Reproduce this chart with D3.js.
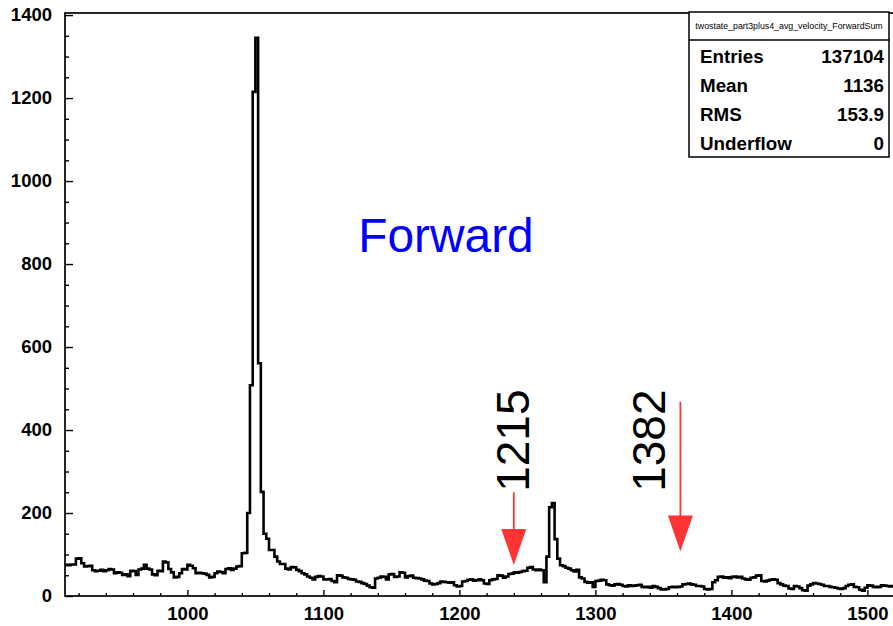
<!DOCTYPE html>
<html>
<head>
<meta charset="utf-8">
<script src="https://cdn.jsdelivr.net/npm/d3@7"></script>
<style>
  html, body { margin: 0; padding: 0; background: #fff; }
  svg { display: block; }
  text { font-family: "Liberation Sans", Arial, Helvetica, sans-serif; }
</style>
</head>
<body>
<svg id="chart" width="893" height="626"></svg>
<script>
// ---- histogram data: 2-unit bins starting at 910 ----
const binLow = 910;
const binWidth = 2;
const counts = [
  75, 74, 76, 76, 90, 91, 79, 71, 72, 73,
  62, 60, 61, 63, 60, 62, 65, 64, 55, 57,
  56, 51, 52, 48, 61, 60, 51, 64, 66, 75,
  66, 64, 52, 50, 61, 60, 83, 81, 65, 57,
  45, 46, 55, 65, 64, 75, 73, 67, 55, 56,
  55, 54, 51, 45, 46, 55, 59, 58, 55, 65,
  67, 63, 66, 71, 72, 103, 104, 200, 508, 1215,
  1345, 561, 251, 150, 138, 111, 111, 95, 83, 77,
  77, 66, 64, 70, 69, 63, 60, 55, 52, 47,
  44, 40, 46, 48, 47, 40, 40, 41, 36, 33,
  50, 49, 45, 44, 41, 40, 39, 35, 34, 31,
  29, 25, 21, 20, 42, 44, 47, 46, 40, 52,
  53, 46, 47, 57, 56, 45, 48, 49, 44, 43,
  42, 40, 37, 36, 30, 28, 29, 31, 35, 34,
  33, 32, 33, 26, 23, 24, 35, 36, 39, 40,
  37, 38, 40, 38, 30, 29, 38, 40, 41, 50,
  49, 44, 47, 53, 54, 57, 56, 58, 60, 61,
  68, 70, 64, 62, 64, 62, 33, 95, 214, 224,
  137, 90, 74, 72, 68, 66, 62, 59, 63, 45,
  42, 34, 32, 33, 22, 36, 37, 39, 38, 28,
  26, 25, 28, 29, 27, 24, 23, 26, 24, 25,
  26, 27, 22, 21, 22, 20, 24, 22, 19, 16,
  16, 17, 21, 22, 21, 22, 23, 28, 29, 30,
  28, 27, 24, 24, 23, 17, 16, 17, 33, 38,
  46, 47, 44, 45, 43, 46, 47, 45, 46, 42,
  40, 39, 44, 45, 49, 50, 36, 35, 37, 39,
  40, 39, 31, 28, 25, 24, 18, 17, 24, 23,
  19, 14, 13, 25, 28, 31, 30, 29, 27, 24,
  24, 22, 21, 20, 18, 17, 19, 24, 27, 28,
  22, 21, 15, 13, 20, 26, 25, 22, 21, 22,
  26, 25, 24, 23, 24
];

// axis ranges and tick values
const xDomain = [910, 1520];
const yDomain = [0, 1405];
const xMajorTicks = [1000, 1100, 1200, 1300, 1400, 1500];
const yMajorTicks = [0, 200, 400, 600, 800, 1000, 1200, 1400];

// statistics box
const statsTitle = "twostate_part3plus4_avg_velocity_ForwardSum";
const statsNames = ["Entries", "Mean", "RMS", "Underflow"];
const statsValues = ["137104", "1136", "153.9", "0"];

// annotation arrows (x position, start height, tip height) and their labels
const arrowX = [1240, 1362.5];
const arrowTop = [250, 468];
const arrowTip = [75, 107];
const arrowLabels = ["1215", "1382"];
const arrowLabelX = [1251.5, 1351.5];
const arrowLabelY = [251, 251];

const titleText = "Forward";

// ---- layout ----
const frame = { left: 65, top: 13, bottom: 596 };
const pxPerUnit = 1.36;
const frameRight = frame.left + (xDomain[1] - xDomain[0]) * pxPerUnit;

const svg = d3.select("#chart");

const x = d3.scaleLinear().domain(xDomain).range([frame.left, frameRight]);
const y = d3.scaleLinear().domain(yDomain).range([frame.bottom, frame.top]);

svg.append("defs").append("clipPath").attr("id", "plotClip")
  .append("rect")
  .attr("x", frame.left).attr("y", frame.top)
  .attr("width", frameRight - frame.left).attr("height", frame.bottom - frame.top);

// histogram outline as a step line over bin edges
const edges = counts.map((c, i) => ({ e: binLow + i * binWidth, c }));
edges.push({ e: binLow + counts.length * binWidth, c: counts[counts.length - 1] });

const step = d3.line()
  .x(d => x(d.e))
  .y(d => y(d.c))
  .curve(d3.curveStepAfter);

svg.append("path")
  .datum(edges)
  .attr("clip-path", "url(#plotClip)")
  .attr("d", step)
  .attr("fill", "none")
  .attr("stroke", "#000")
  .attr("stroke-width", 2.6)
  .attr("stroke-linejoin", "miter");

// frame
svg.append("rect")
  .attr("x", frame.left).attr("y", frame.top)
  .attr("width", frameRight - frame.left).attr("height", frame.bottom - frame.top)
  .attr("fill", "none").attr("stroke", "#000").attr("stroke-width", 1.7);

// x axis: major ticks with labels, minor ticks every 20
const xMinor = d3.range(920, 1520, 20).filter(v => !xMajorTicks.includes(v));
svg.append("g")
  .attr("transform", `translate(0,${frame.bottom})`)
  .call(d3.axisBottom(x).tickValues(xMajorTicks).tickFormat(d3.format("d"))
    .tickSizeInner(-6).tickSizeOuter(0).tickPadding(11));
svg.append("g")
  .attr("transform", `translate(0,${frame.bottom})`)
  .call(d3.axisBottom(x).tickValues(xMinor).tickFormat("")
    .tickSizeInner(-3).tickSizeOuter(0));

// y axis: major ticks with labels, minor ticks every 50
const yMinor = d3.range(50, 1405, 50).filter(v => !yMajorTicks.includes(v));
svg.append("g")
  .attr("transform", `translate(${frame.left},0)`)
  .call(d3.axisLeft(y).tickValues(yMajorTicks).tickFormat(d3.format("d"))
    .tickSizeInner(-8).tickSizeOuter(0).tickPadding(13));
svg.append("g")
  .attr("transform", `translate(${frame.left},0)`)
  .call(d3.axisLeft(y).tickValues(yMinor).tickFormat("")
    .tickSizeInner(-4).tickSizeOuter(0));

svg.selectAll(".domain").remove();
svg.selectAll(".tick line").attr("stroke", "#000").attr("stroke-width", 1.4);
svg.selectAll(".tick text")
  .attr("fill", "#000")
  .style("font-family", "'Liberation Sans', Arial, sans-serif")
  .style("font-weight", "bold")
  .style("font-size", "18.5px");

// "Forward" caption
svg.append("text")
  .attr("x", x(1125.7)).attr("y", y(829))
  .attr("fill", "#0000ff")
  .style("font-size", "47.8px")
  .text(titleText);

// red arrows
const arrowColor = "#ff3535";
const headLen = 36, headHalf = 12.5;
arrowX.forEach((ax, i) => {
  const px = x(ax), y0 = y(arrowTop[i]), y1 = y(arrowTip[i]);
  svg.append("line")
    .attr("x1", px).attr("x2", px)
    .attr("y1", y0).attr("y2", y1 - headLen + 2)
    .attr("stroke", arrowColor).attr("stroke-width", 1.8);
  svg.append("path")
    .attr("d", `M${px - headHalf},${y1 - headLen} L${px + headHalf},${y1 - headLen} L${px},${y1} Z`)
    .attr("fill", arrowColor);
});

// rotated arrow labels
arrowLabels.forEach((t, i) => {
  svg.append("text")
    .attr("transform", `translate(${x(arrowLabelX[i])},${y(arrowLabelY[i])}) rotate(-90)`)
    .attr("fill", "#000")
    .style("font-size", "46px")
    .text(t);
});

// statistics box
const box = { x: 689, y: 12, w: 200, h: 145, sep: 40 };
const sb = svg.append("g");
sb.append("rect")
  .attr("x", box.x).attr("y", box.y).attr("width", box.w).attr("height", box.h)
  .attr("fill", "#fff").attr("stroke", "#000").attr("stroke-width", 1.5);
sb.append("line")
  .attr("x1", box.x).attr("x2", box.x + box.w)
  .attr("y1", box.sep).attr("y2", box.sep)
  .attr("stroke", "#000").attr("stroke-width", 1.4);
sb.append("text")
  .attr("x", box.x + box.w / 2).attr("y", 28.5)
  .attr("text-anchor", "middle")
  .attr("fill", "#000")
  .style("font-size", "8.8px")
  .text(statsTitle);
statsNames.forEach((n, i) => {
  const by = 62.7 + i * 29;
  sb.append("text")
    .attr("x", box.x + 11).attr("y", by)
    .style("font-weight", "bold").style("font-size", "18.8px")
    .attr("fill", "#000")
    .text(n);
  sb.append("text")
    .attr("x", box.x + box.w - 5).attr("y", by)
    .attr("text-anchor", "end")
    .style("font-weight", "bold").style("font-size", "18.8px")
    .attr("fill", "#000")
    .text(statsValues[i]);
});
</script>
</body>
</html>
